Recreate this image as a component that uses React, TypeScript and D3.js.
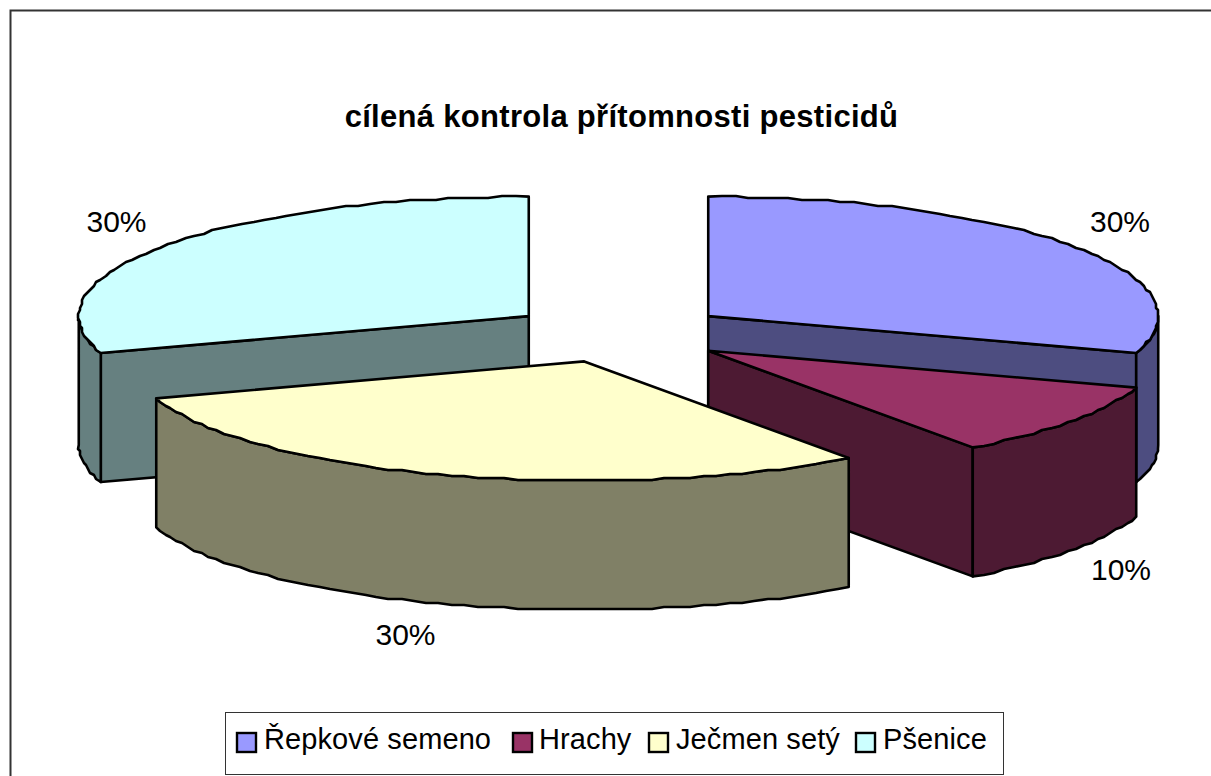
import React from "react";
import * as d3 from "d3";

const title = "cílená kontrola přítomnosti pesticidů";
const categories = ["Řepkové semeno", "Hrachy", "Ječmen setý", "Pšenice"];
const values = [30, 10, 30, 30];
const percentLabels = ["30%", "10%", "30%", "30%"];
const topColors = ["#9999FF", "#993366", "#FFFFCC", "#CCFFFF"];
const sideColors = ["#4D4D80", "#4D1A33", "#808066", "#668080"];
const drawOrder = [3, 0, 1, 2];
const labelPos = [
  [1120, 232],
  [1121, 580],
  [405.5, 645],
  [116.5, 232],
];
const legendTextX = [264, 539, 676, 883];
const legendSwatchX = [236, 512, 648, 855];

const W = 1211, H = 776;
const CX = 618.5, CY = 333.4, RX = 450, RY = 119.5, DEPTH = 129, EXPLODE = 0.2465;
const FONT = "'Liberation Sans', Arial, sans-serif";
const STROKE = "#000";
const EDGE = 2.6;

type P = [number, number];
const line = d3.line<P>().x((d) => d[0]).y((d) => d[1]);

const pie = d3.pie<number>().sort(null).startAngle(0).endAngle(2 * Math.PI);
const arcs = pie(values);

// a grid snap that reproduces the slightly wobbly polyline of the source rendering
const snap = (v: number) => Math.round(v / 2) * 2;

function arcPoints(c: P, a0: number, a1: number): P[] {
  const n = Math.max(2, Math.ceil((a1 - a0) / 0.03));
  const angles = d3.range(n + 1).map((i) => a0 + ((a1 - a0) * i) / n);
  return angles.map((a, i) => {
    const x = c[0] + RX * Math.sin(a);
    const y = c[1] - RY * Math.cos(a);
    return (i === 0 || i === n ? [x, y] : [snap(x), snap(y)]) as P;
  });
}

const down = (pts: P[]): P[] => pts.map((p) => [p[0], p[1] + DEPTH] as P);
const rim = (c: P, a: number): P => [c[0] + RX * Math.sin(a), c[1] - RY * Math.cos(a)];

function Slice({ index }: { index: number }) {
  const d = arcs[index];
  const mid = (d.startAngle + d.endAngle) / 2;
  const c: P = [
    CX + EXPLODE * RX * Math.sin(mid),
    CY - EXPLODE * RY * Math.cos(mid),
  ];
  const faces: React.ReactNode[] = [];
  const wall = (a: number, key: string) => {
    const e = rim(c, a);
    const poly: P[] = [c, e, [e[0], e[1] + DEPTH], [c[0], c[1] + DEPTH]];
    faces.push(
      <path key={key} d={line(poly)! + "Z"} fill={sideColors[index]} stroke={STROKE} strokeWidth={EDGE} strokeLinejoin="round" />
    );
  };
  if (Math.sin(d.startAngle) < -1e-6) wall(d.startAngle, "start");
  if (Math.sin(d.endAngle) > 1e-6) wall(d.endAngle, "end");
  const a0 = Math.max(d.startAngle, Math.PI / 2);
  const a1 = Math.min(d.endAngle, (3 * Math.PI) / 2);
  if (a1 > a0) {
    const upper = arcPoints(c, a0, a1);
    const lower = down(upper).reverse();
    faces.push(
      <path key="outer" d={line([...upper, ...lower])! + "Z"} fill={sideColors[index]} stroke={STROKE} strokeWidth={EDGE} strokeLinejoin="round" />
    );
  }
  const top = [c, ...arcPoints(c, d.startAngle, d.endAngle)];
  faces.push(
    <path key="top" d={line(top)! + "Z"} fill={topColors[index]} stroke={STROKE} strokeWidth={EDGE} strokeLinejoin="round" />
  );
  return <g>{faces}</g>;
}

export default function App() {
  return (
    <svg width={W} height={H} viewBox={`0 0 ${W} ${H}`} style={{ position: "absolute", left: 0, top: 0, background: "#fff" }} fontFamily={FONT}>
      <path d={`M10.5 ${H}V10.5H${W}`} fill="none" stroke="#333" strokeWidth={2} />
      <text x={621.5} y={127} textAnchor="middle" fontSize={31} fontWeight="bold" letterSpacing={0.3} fill="#000">{title}</text>
      {drawOrder.map((i) => <Slice key={i} index={i} />)}
      {percentLabels.map((t, i) => (
        <text key={i} x={labelPos[i][0]} y={labelPos[i][1]} textAnchor="middle" fontSize={30} fill="#000">{t}</text>
      ))}
      <rect x={225.5} y={712.5} width={778} height={62} fill="#fff" stroke="#333" strokeWidth={1} />
      {categories.map((t, i) => (
        <g key={t}>
          <rect x={legendSwatchX[i] + 1} y={733} width={19} height={19} fill={topColors[i]} stroke="#000" strokeWidth={2.4} />
          <text x={legendTextX[i]} y={749} fontSize={29} letterSpacing={0.1} fill="#000">{t}</text>
        </g>
      ))}
    </svg>
  );
}
